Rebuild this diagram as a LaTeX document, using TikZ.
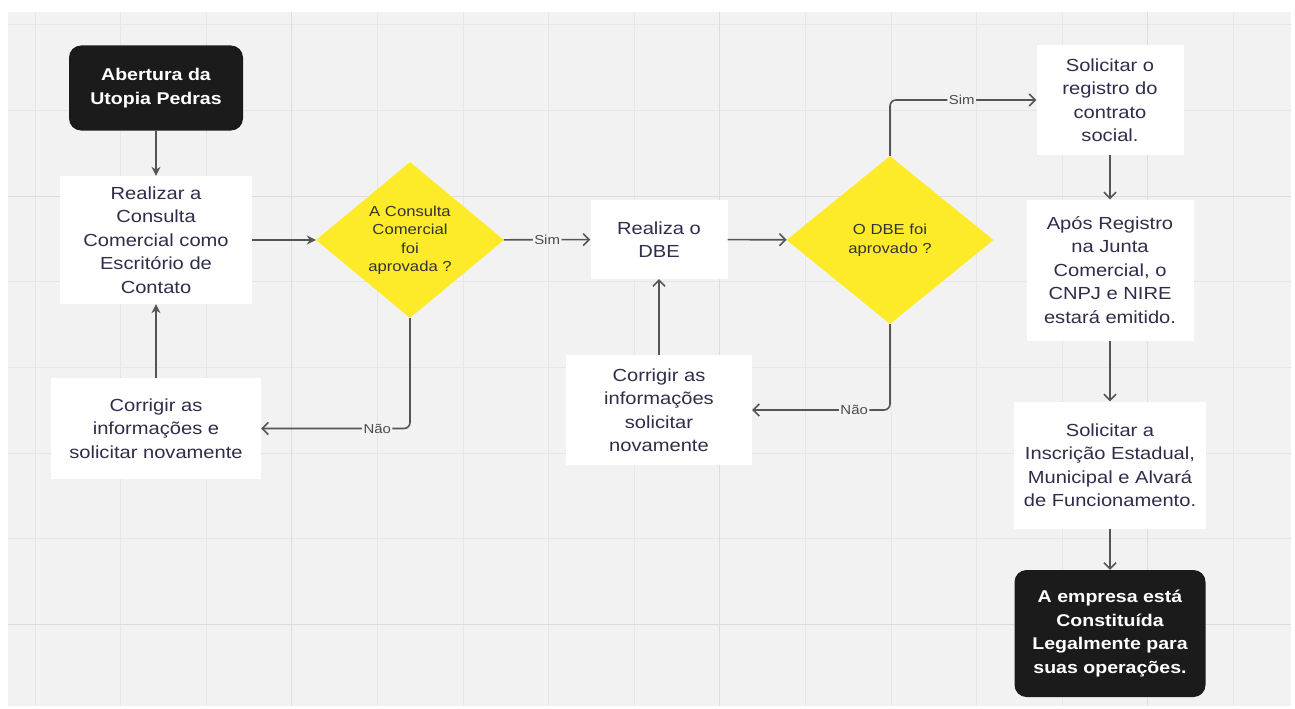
\documentclass[tikz,border=0pt]{standalone}
\usepackage{fontspec}
\setmainfont{Liberation Sans}[FakeStretch=1.15]
\usepackage{xcolor}
\usetikzlibrary{shapes.geometric, arrows.meta}

\definecolor{fundo}{HTML}{F2F2F2}
\definecolor{grade}{HTML}{E6E6E6}
\definecolor{gradeforte}{HTML}{DCDCDC}
\definecolor{amarelo}{HTML}{FDEB2A}
\definecolor{texto}{HTML}{2E2E4A}
\definecolor{seta}{HTML}{555555}
\definecolor{preto}{HTML}{1B1B1B}

\begin{document}
\begin{tikzpicture}[x=1pt,y=-1pt,
    caixa/.style={rectangle,fill=white,text=texto,align=center,inner sep=0pt,
        font=\fontsize{17.5}{23.5}\selectfont},
    terminal/.style={rectangle,rounded corners=12pt,fill=preto,text=white,align=center,
        inner sep=0pt,font=\fontsize{17}{23.5}\selectfont\bfseries},
    decisao/.style={diamond,aspect=1.2,fill=amarelo,text=black!80,align=center,inner sep=0pt,
        font=\fontsize{14.5}{18.5}\selectfont},
    rotulo/.style={fill=fundo,text=black!70,inner sep=1.5pt,font=\fontsize{13}{15}\selectfont},
    cheia/.style={draw=seta,line width=1.7pt,-{Stealth[length=9pt,width=9pt]}},
    aberta/.style={draw=seta,line width=1.6pt,rounded corners=6pt,-{Straight Barb[length=6pt,width=12pt]}}]
        % fundo com grade
        \useasboundingbox (0,0) rectangle (1295,709);
        \fill[white] (0,0) rectangle (1295,709);
        \fill[fundo] (8,12) rectangle (1291,706);
        \foreach \i in {0,...,14}
            \draw[grade,line width=1pt] ({35+85.6*\i},12) -- ({35+85.6*\i},706);
        \foreach \j in {0,...,7}
            \draw[grade,line width=1pt] (8,{25+85.6*\j}) -- (1291,{25+85.6*\j});
        \foreach \i in {3,8,13}
            \draw[gradeforte,line width=1.2pt] ({35+85.6*\i},12) -- ({35+85.6*\i},706);
        \foreach \j in {2,7}
            \draw[gradeforte,line width=1.2pt] (8,{25+85.6*\j}) -- (1291,{25+85.6*\j});

        % etapas
        \node[terminal,minimum width=174,minimum height=85](abertura) at (156,88) {Abertura da\\Utopia Pedras};
        \node[caixa,minimum width=192,minimum height=128](consulta) at (156,240) {Realizar a\\Consulta\\Comercial como\\Escritório de\\Contato};
        \node[decisao,minimum width=188,minimum height=156](dec_consulta) at (410,240) {A Consulta\\Comercial\\foi\\aprovada ?};
        \node[caixa,minimum width=210,minimum height=101](corr_consulta) at (156,428.5) {Corrigir as\\informações e\\solicitar novamente};
        \node[caixa,minimum width=137,minimum height=79](dbe) at (659,239.5) {Realiza o\\DBE};
        \node[decisao,minimum width=207,minimum height=168](dec_dbe) at (890,240) {O DBE foi\\aprovado ?};
        \node[caixa,minimum width=186,minimum height=110](corr_dbe) at (659,410) {Corrigir as\\informações\\solicitar\\novamente};
        \node[caixa,minimum width=147,minimum height=110](registro) at (1110,100) {Solicitar o\\registro do\\contrato\\social.};
        \node[caixa,minimum width=167,minimum height=141](apos) at (1110,270) {Após Registro\\na Junta\\Comercial, o\\CNPJ e NIRE\\estará emitido.};
        \node[caixa,minimum width=192,minimum height=127](inscricao) at (1110,465) {Solicitar a\\Inscrição Estadual,\\Municipal e Alvará\\de Funcionamento.};
        \node[terminal,minimum width=191,minimum height=127](fim) at (1110,633.5) {A empresa está\\Constituída\\Legalmente para\\suas operações.};

        % ligacoes
        \path[cheia](abertura) edge (consulta)
                    (consulta) edge (dec_consulta)
                    (corr_consulta) edge (consulta);
        \path[aberta](dec_consulta) edge node[rotulo] {Sim} (dbe)
                    (dbe) edge (dec_dbe)
                    (corr_dbe) edge (dbe)
                    (registro) edge (apos)
                    (apos) edge (inscricao)
                    (inscricao) edge (fim);
        \draw[aberta](dec_dbe.north) |- node[rotulo,pos=0.745] {Sim} (registro);
        \draw[aberta](dec_consulta.south) |- node[rotulo,pos=0.61] {Não} (corr_consulta);
        \draw[aberta](dec_dbe.south) |- node[rotulo,pos=0.63] {Não} (corr_dbe);
\end{tikzpicture}
\end{document}
